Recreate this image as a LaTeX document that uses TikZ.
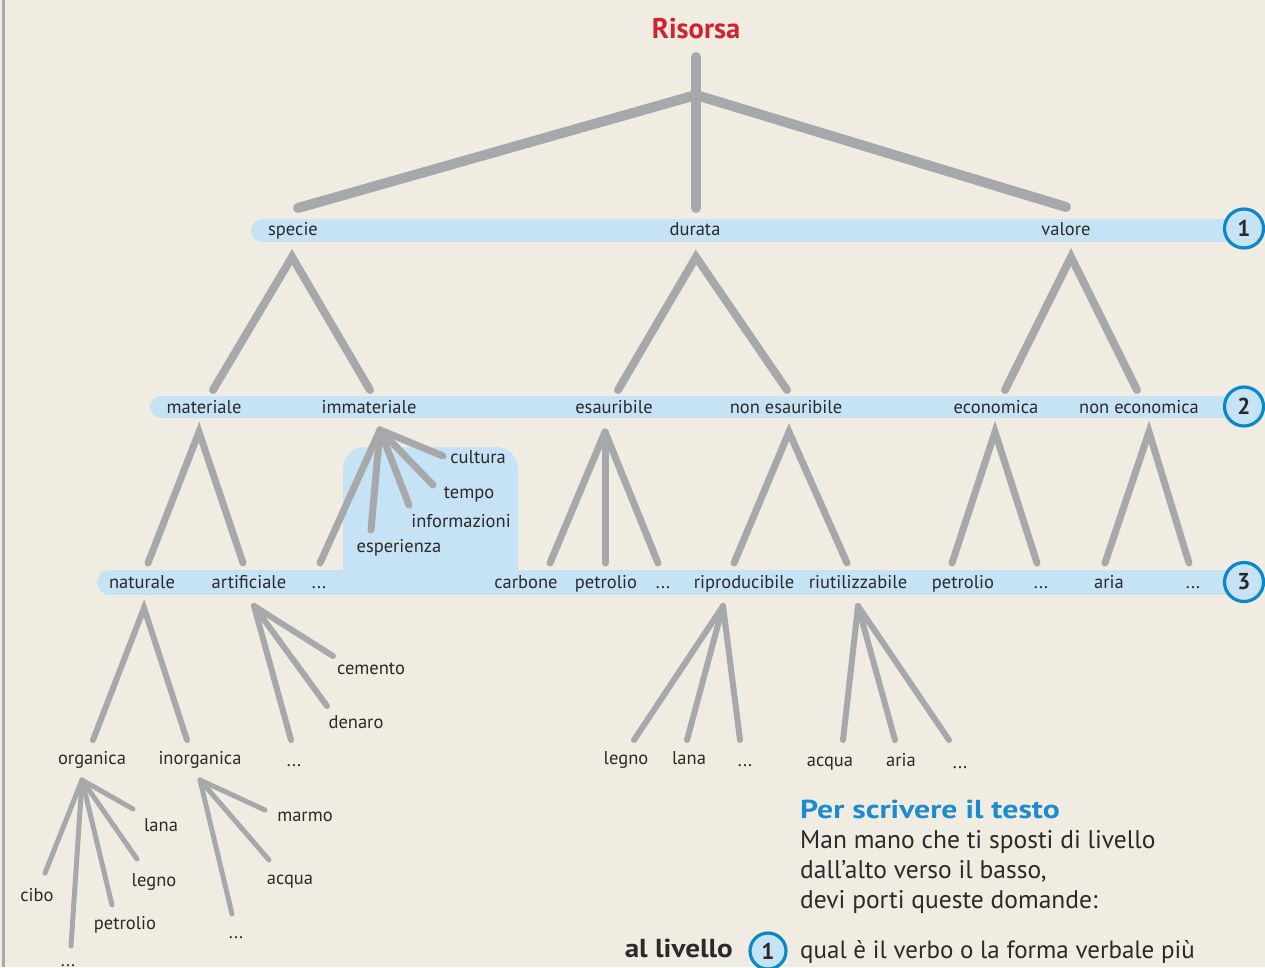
\documentclass[tikz,border=0pt]{standalone}
\usepackage{fontspec}
\setmainfont{PT Sans}
\definecolor{bgc}{HTML}{F0ECE1}
\definecolor{bandc}{HTML}{C6E2F5}
\definecolor{greyc}{HTML}{A7A8AC}
\definecolor{circc}{HTML}{0B87CB}
\definecolor{redc}{HTML}{D3222F}
\definecolor{titc}{HTML}{1C8BD0}
\definecolor{txtc}{HTML}{2A2A2A}
\tikzset{
  lbl/.style={font=\fontsize{18.5}{21}\selectfont, text=txtc, inner sep=0pt, anchor=base},
  big/.style={font=\fontsize{25.5}{30}\selectfont, text=txtc, inner sep=0pt, anchor=base west},
  br0/.style={draw=greyc, line width=10pt, line cap=round, line join=round},
  br1/.style={draw=greyc, line width=8pt, line cap=round},
  br2/.style={draw=greyc, line width=7pt, line cap=round},
  br3/.style={draw=greyc, line width=6pt, line cap=round},
  br4/.style={draw=greyc, line width=5pt, line cap=round},
  band/.style={draw=bandc, line cap=round},
  lvl/.style={circle, draw=circc, line width=3.2pt, fill=bandc, minimum size=39pt, inner sep=0pt, text=txtc, font=\bfseries\fontsize{23}{25}\selectfont},
}
\begin{document}
\begin{tikzpicture}[x=1pt,y=-1pt]
\useasboundingbox (0,0) rectangle (1265,967);
\fill[bgc] (0,0) rectangle (1265,967);
\draw[greyc, line width=3pt] (3,0) -- (3,967);
% bands
\begin{scope}
\clip (0,0) rectangle (1265,585);
\fill[bandc, rounded corners=22pt] (343,447) rectangle (518,640);
\end{scope}
\draw[band, line width=23pt] (262.5,230.5) -- (1245,230.5);
\draw[band, line width=22pt] (161,407) -- (1245,407);
\draw[band, line width=25pt] (109.5,582.5) -- (1245,582.5);
% level circles
\node[lvl] (c1) at (1244,228.5) {1};
\node[lvl] (c2) at (1244,406.5) {2};
\node[lvl] (c3) at (1244,582) {3};
% title
\node[font=\bfseries\fontsize{28.5}{32}\selectfont, text=redc, inner sep=0pt, anchor=base] (ris) at (696,38) {Risorsa};
% level 0 -> 1
\coordinate (top) at (696,57);
\coordinate (hub) at (696,95);
\coordinate (e1a) at (298,208);
\coordinate (e1b) at (696,208);
\coordinate (e1c) at (1066,207);
\draw[br0] (top) -- (e1b);
\draw[br0] (e1a) -- (hub) -- (e1c);
% level 1 labels
\node[lbl] (specie) at (293,235) {specie};
\node[lbl] (durata) at (695,235) {durata};
\node[lbl] (valore) at (1066,235) {valore};
% level 1 -> 2
\coordinate (a1) at (292,257); \coordinate (a2) at (696,257); \coordinate (a3) at (1071,257);
\coordinate (b1) at (213,390); \coordinate (b2) at (370,390);
\coordinate (b3) at (618,390); \coordinate (b4) at (787,390);
\coordinate (b5) at (1005,390); \coordinate (b6) at (1137,390);
\draw[br1] (b1) -- (a1) -- (b2);
\draw[br1] (b3) -- (a2) -- (b4);
\draw[br1] (b5) -- (a3) -- (b6);
% level 2 labels
\node[lbl] (materiale) at (204,413) {materiale};
\node[lbl] (immateriale) at (369,413) {immateriale};
\node[lbl] (esauribile) at (614,413) {esauribile};
\node[lbl] (nonesauribile) at (786,413) {non esauribile};
\node[lbl] (economica) at (996,413) {economica};
\node[lbl] (noneconomica) at (1139,413) {non economica};
% level 2 -> 3
\coordinate (m0) at (199,432); \coordinate (m1) at (148,563); \coordinate (m2) at (243,563);
\draw[br2] (m1) -- (m0) -- (m2);
\coordinate (i0) at (380,430);
\coordinate (i1) at (320,563); \coordinate (i2) at (371,530); \coordinate (i3) at (409,505);
\coordinate (i4) at (433,485); \coordinate (i5) at (443,456);
\foreach \e in {i1,i2,i3,i4,i5} \draw[br2] (i0) -- (\e);
\coordinate (s0) at (605,432); \coordinate (s1) at (550,563); \coordinate (s2) at (605,563); \coordinate (s3) at (658,563);
\foreach \e in {s1,s2,s3} \draw[br2] (s0) -- (\e);
\coordinate (n0) at (789,432); \coordinate (n1) at (734,563); \coordinate (n2) at (847,563);
\draw[br2] (n1) -- (n0) -- (n2);
\coordinate (o0) at (995,432); \coordinate (o1) at (952,563); \coordinate (o2) at (1037,563);
\draw[br2] (o1) -- (o0) -- (o2);
\coordinate (p0) at (1149,432); \coordinate (p1) at (1105,563); \coordinate (p2) at (1189,563);
\draw[br2] (p1) -- (p0) -- (p2);
% immateriale children
\node[lbl] (cultura) at (478,463) {cultura};
\node[lbl] (tempo) at (469,498) {tempo};
\node[lbl] (informazioni) at (461,527) {informazioni};
\node[lbl] (esperienza) at (399,552) {esperienza};
% level 3 labels
\node[lbl] (naturale) at (142,588) {naturale};
\node[lbl] (artificiale) at (249,588) {artificiale};
\node[lbl] (d1) at (319,588) {...};
\node[lbl] (carbone) at (526,588) {carbone};
\node[lbl] (petrolio1) at (606,588) {petrolio};
\node[lbl] (d2) at (663,588) {...};
\node[lbl] (riproducibile) at (744,588) {riproducibile};
\node[lbl] (riutilizzabile) at (858,588) {riutilizzabile};
\node[lbl] (petrolio2) at (963,588) {petrolio};
\node[lbl] (d3) at (1041,588) {...};
\node[lbl] (aria1) at (1109,588) {aria};
\node[lbl] (d4) at (1193,588) {...};
% level 3 -> 4
\coordinate (q0) at (144,608); \coordinate (q1) at (93,740); \coordinate (q2) at (187,740);
\draw[br3] (q1) -- (q0) -- (q2);
\coordinate (r0) at (254,606); \coordinate (r1) at (291,740); \coordinate (r2) at (327,706); \coordinate (r3) at (333,656);
\foreach \e in {r1,r2,r3} \draw[br3] (r0) -- (\e);
\coordinate (t0) at (723,606); \coordinate (t1) at (634,740); \coordinate (t2) at (687,740); \coordinate (t3) at (740,740);
\foreach \e in {t1,t2,t3} \draw[br3] (t0) -- (\e);
\coordinate (u0) at (858,606); \coordinate (u1) at (843,740); \coordinate (u2) at (895,740); \coordinate (u3) at (949,740);
\foreach \e in {u1,u2,u3} \draw[br3] (u0) -- (\e);
% level 4 labels
\node[lbl] (organica) at (92,764) {organica};
\node[lbl] (inorganica) at (200,764) {inorganica};
\node[lbl] (d5) at (294,766) {...};
\node[lbl] (cemento) at (371,674) {cemento};
\node[lbl] (denaro) at (356,728) {denaro};
\node[lbl] (legno1) at (626,764) {legno};
\node[lbl] (lana1) at (689,764) {lana};
\node[lbl] (d6) at (745,766) {...};
\node[lbl] (acqua1) at (830,766) {acqua};
\node[lbl] (aria2) at (901,766) {aria};
\node[lbl] (d7) at (960,768) {...};
% level 4 -> 5
\coordinate (v0) at (82,780);
\coordinate (v1) at (45,873); \coordinate (v2) at (71,946); \coordinate (v3) at (112,905);
\coordinate (v4) at (137,859); \coordinate (v5) at (133,809);
\foreach \e in {v1,v2,v3,v4,v5} \draw[br4] (v0) -- (\e);
\coordinate (w0) at (200,780);
\coordinate (w1) at (232,914); \coordinate (w2) at (269,860); \coordinate (w3) at (265,810);
\foreach \e in {w1,w2,w3} \draw[br4] (w0) -- (\e);
% level 5 labels
\node[lbl] (cibo) at (37,901) {cibo};
\node[lbl] (d8) at (68,966) {...};
\node[lbl] (petrolio3) at (125,929) {petrolio};
\node[lbl] (legno2) at (154,886) {legno};
\node[lbl] (lana2) at (161,831) {lana};
\node[lbl] (marmo) at (305,821) {marmo};
\node[lbl] (acqua2) at (290,884) {acqua};
\node[lbl] (d9) at (236,938) {...};
% bottom text
\node[big, font=\bfseries\fontsize{26}{30}\selectfont, text=titc] (per) at (800,818) {\scalebox{1.22}[1]{Per scrivere il testo}};
\node[big] (l1) at (800,848) {Man mano che ti sposti di livello};
\node[big] (l2) at (800,878) {dall’alto verso il basso,};
\node[big] (l3) at (800,908) {devi porti queste domande:};
\node[big, anchor=base east, font=\bfseries\fontsize{26}{30}\selectfont] (al) at (733,957) {\scalebox{1.12}[1]{al livello}};
\node[lvl, minimum size=36pt] (cb) at (768,951) {1};
\node[big, font=\fontsize{25}{30}\selectfont] (q) at (800,958) {qual è il verbo o la forma verbale più};
\end{tikzpicture}
\end{document}
